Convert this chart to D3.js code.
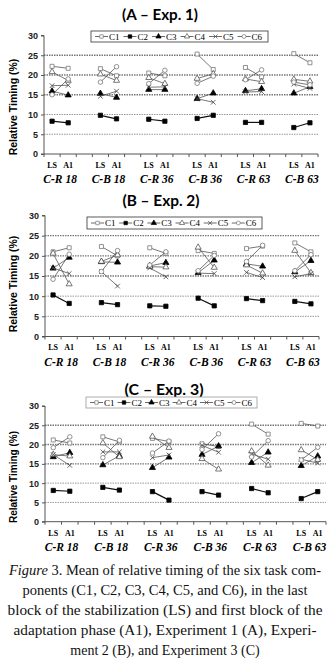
<!DOCTYPE html>
<html>
<head>
<meta charset="utf-8">
<script src="https://cdn.jsdelivr.net/npm/d3@7"></script>
<style>
  body { margin: 0; background: #fff; }
  svg { display: block; }
</style>
</head>
<body>
<div id="main"></div>
<script>
// categories
const groups = ["C-R 18", "C-B 18", "C-R 36", "C-B 36", "C-R 63", "C-B 63"]
const phases = ["LS", "A1"]
const seriesNames = ["C1", "C2", "C3", "C4", "C5", "C6"]
const yTicks = [0, 5, 10, 15, 20, 25, 30]

// values: LS, A1 for each group in order
const expA_C1 = [22.2, 21.7, 21.6, 19.8, 20.5, 19.8, 25.3, 21.4, 21.9, 19.5, 25.4, 23.1]
const expA_C2 = [8.3, 7.9, 9.8, 8.9, 8.8, 8.3, 9.0, 9.8, 8.0, 8.0, 6.7, 7.9]
const expA_C3 = [15.9, 14.9, 15.3, 14.3, 16.3, 16.3, 14.0, 15.4, 16.0, 16.5, 15.4, 17.0]
const expA_C4 = [20.8, 18.6, 20.2, 18.6, 19.3, 17.8, 19.1, 20.3, 19.0, 18.3, 18.9, 18.4]
const expA_C5 = [17.3, 17.4, 14.6, 15.9, 16.9, 17.0, 14.0, 13.1, 15.7, 15.8, 17.7, 16.6]
const expA_C6 = [15.0, 19.0, 18.2, 22.1, 17.8, 21.2, 17.9, 19.7, 18.8, 21.3, 18.2, 17.5]

const expB_C1 = [21.0, 22.0, 22.3, 20.0, 22.0, 20.6, 21.3, 20.6, 21.8, 22.4, 23.2, 21.0]
const expB_C2 = [10.3, 8.2, 8.4, 7.9, 7.6, 7.5, 9.5, 7.6, 9.4, 8.9, 8.7, 8.1]
const expB_C3 = [16.9, 19.6, 18.5, 18.4, 17.5, 18.3, 15.8, 18.9, 18.0, 17.4, 16.0, 18.8]
const expB_C4 = [20.6, 13.0, 18.6, 20.2, 17.3, 17.2, 22.1, 17.1, 17.7, 15.7, 21.3, 15.8]
const expB_C5 = [17.0, 15.6, 16.1, 12.5, 17.0, 14.8, 15.7, 15.6, 15.9, 14.6, 14.8, 15.6]
const expB_C6 = [14.2, 20.4, 16.1, 21.3, 17.7, 21.0, 16.3, 20.1, 18.6, 22.6, 16.3, 20.3]

const expC_C1 = [21.2, 20.4, 22.0, 20.7, 21.6, 20.8, 20.2, 19.5, 25.3, 22.7, 25.5, 24.8]
const expC_C2 = [8.1, 7.9, 8.9, 8.2, 7.8, 5.6, 7.8, 6.9, 8.6, 7.5, 6.0, 7.8]
const expC_C3 = [16.8, 17.9, 14.7, 17.1, 14.0, 16.7, 17.4, 19.6, 15.3, 18.0, 14.5, 17.0]
const expC_C4 = [17.4, 17.0, 20.4, 16.8, 22.1, 19.2, 16.3, 13.6, 18.3, 14.6, 18.6, 16.1]
const expC_C5 = [17.4, 14.6, 18.1, 18.1, 16.6, 17.3, 19.8, 18.0, 17.5, 16.2, 16.2, 15.2]
const expC_C6 = [19.2, 22.0, 16.6, 21.1, 17.8, 20.9, 18.7, 22.8, 16.8, 21.0, 16.0, 19.3]

const captionLines = [
    "Mean of relative timing of the six task com-",
    "ponents (C1, C2, C3, C4, C5, and C6), in the last",
    "block of the stabilization (LS) and first block of the",
    "adaptation phase (A1), Experiment 1 (A), Experi-",
    "ment 2 (B), and Experiment 3 (C)"
]

let width = 330
let height = 665

let svg = d3.select('#main')
            .append('svg')
            .attr('width', width)
            .attr('height', height)

// marker look per series
let markerStyle = {
    C1: { type: d3.symbolSquare, fill: "#fff", stroke: "#777", size: 16 },
    C2: { type: d3.symbolSquare, fill: "#000", stroke: "#000", size: 18 },
    C3: { type: d3.symbolTriangle, fill: "#000", stroke: "#000", size: 16 },
    C4: { type: d3.symbolTriangle, fill: "#fff", stroke: "#555", size: 16 },
    C5: { type: d3.symbolX || d3.symbolCross, fill: "none", stroke: "#444", size: 16 },
    C6: { type: d3.symbolCircle, fill: "#fff", stroke: "#777", size: 16 }
}

// 17 bands: LS, A1, gap ... last group without gap
let bands = []
groups.forEach((g, i) => {
    bands.push(g + "|LS", g + "|A1")
    if (i < groups.length - 1) bands.push(g + "|gap")
})

let panels = [
    { title: "(A \u2013 Exp. 1)", titleX: 160, titleY: 15, titleW: 76, series: [expA_C1, expA_C2, expA_C3, expA_C4, expA_C5, expA_C6],
      x0: 44, x1: 318, yBottom: 154, yTop: 35.5, labelY: 107, labelSize: 10.5, legend: [91, 31, 177, 11], legendStroke: "#333" },
    { title: "(B \u2013 Exp. 2)", titleX: 161, titleY: 201, titleW: 77, series: [expB_C1, expB_C2, expB_C3, expB_C4, expB_C5, expB_C6],
      x0: 45, x1: 319, yBottom: 336.5, yTop: 215.5, labelY: 284, labelSize: 10.5, legend: [87, 217, 175, 12], legendStroke: "#333" },
    { title: "(C \u2013 Exp. 3)", titleX: 164, titleY: 389.5, titleW: 79, series: [expC_C1, expC_C2, expC_C3, expC_C4, expC_C5, expC_C6],
      x0: 45, x1: 326, yBottom: 521.7, yTop: 406, labelY: 477, labelSize: 10, legend: [86, 397, 171, 11], legendStroke: "#999" }
]

panels.forEach((p) => {
    let xScale = d3.scaleBand().domain(bands).range([p.x0, p.x1])
    let yScale = d3.scaleLinear().domain([0, 30]).range([p.yBottom, p.yTop])

    let g = svg.append('g')

    // title
    g.append('text')
        .attr('x', p.titleX)
        .attr('y', p.titleY)
        .attr('dy', '.35em')
        .attr('textLength', p.titleW)
        .attr('lengthAdjust', 'spacingAndGlyphs')
        .style('text-anchor', 'middle')
        .style('font-family', 'Lato, "Open Sans", sans-serif')
        .style('font-weight', 'bold')
        .style('font-size', '15px')
        .text(p.title)

    // gridlines
    g.selectAll('.grid')
        .data(yTicks.filter((d) => d > 0 && d < 30))
        .enter()
        .append('line')
        .attr('x1', p.x0)
        .attr('x2', p.x1)
        .attr('y1', (d) => yScale(d))
        .attr('y2', (d) => yScale(d))
        .style('stroke', (d) => d >= 15 ? '#777' : '#999')
        .style('stroke-width', (d) => d >= 15 ? 1.4 : 1)
        .style('stroke-dasharray', '1.5,1')

    // y axis
    let yAxis = d3.axisLeft(yScale).tickValues(yTicks).tickSize(3).tickFormat(d3.format('d'))
    let yg = g.append('g')
        .attr('transform', 'translate(' + p.x0 + ',0)')
        .call(yAxis)
    yg.select('.domain').attr('d', 'M-3,' + p.yTop + 'H0V' + p.yBottom + 'H-3').style('stroke', '#555')
    yg.selectAll('.tick line').style('stroke', '#555')
    yg.selectAll('.tick text')
        .attr('x', -6)
        .style('font-family', 'Arial, "Liberation Sans", sans-serif')
        .style('font-weight', 'bold')
        .style('font-size', '9px')
        .style('fill', '#222')

    // x axis: ticks at every band boundary
    let boundaries = bands.map((b) => xScale(b)).concat([p.x1])
    g.append('line')
        .attr('x1', p.x0).attr('x2', p.x1)
        .attr('y1', p.yBottom).attr('y2', p.yBottom)
        .style('stroke', '#555')
    g.selectAll('.xtick')
        .data(boundaries)
        .enter()
        .append('line')
        .attr('x1', (d) => d).attr('x2', (d) => d)
        .attr('y1', p.yBottom).attr('y2', p.yBottom + 3)
        .style('stroke', '#555')

    // LS / A1 labels
    let phaseBands = bands.filter((b) => !b.endsWith('|gap'))
    g.selectAll('.phase')
        .data(phaseBands)
        .enter()
        .append('text')
        .attr('x', (d) => xScale(d) + xScale.bandwidth() / 2)
        .attr('y', p.yBottom + 11)
        .attr('dy', '.35em')
        .style('text-anchor', 'middle')
        .style('font-family', '"Liberation Serif", "Times New Roman", serif')
        .style('font-weight', 'bold')
        .style('font-size', '8px')
        .text((d) => d.split('|')[1])

    // group labels
    g.selectAll('.grp')
        .data(groups)
        .enter()
        .append('text')
        .attr('x', (d) => (xScale(d + '|LS') + xScale(d + '|A1') + xScale.bandwidth()) / 2)
        .attr('y', p.yBottom + 25)
        .attr('dy', '.35em')
        .style('text-anchor', 'middle')
        .style('font-family', '"Liberation Serif", "Times New Roman", serif')
        .style('font-weight', 'bold')
        .style('font-style', 'italic')
        .style('font-size', '11.5px')
        .text((d) => d)

    // y label
    g.append('text')
        .attr('transform', 'translate(13,' + p.labelY + ') rotate(-90)')
        .attr('dy', '.35em')
        .style('text-anchor', 'middle')
        .style('font-family', 'Arial, "Liberation Sans", sans-serif')
        .style('font-weight', 'bold')
        .style('font-size', p.labelSize + 'px')
        .text('Relative Timing (%)')

    // series: one segment per group
    p.series.forEach((vals, si) => {
        let name = seriesNames[si]
        let st = markerStyle[name]
        let pts = []
        groups.forEach((grp, gi) => {
            phases.forEach((ph, pi) => {
                pts.push({ g: gi, x: xScale(grp + '|' + ph) + xScale.bandwidth() / 2, v: vals[gi * 2 + pi] })
            })
        })
        let line = d3.line().x((d) => d.x).y((d) => yScale(d.v))
        groups.forEach((grp, gi) => {
            g.append('path')
                .datum(pts.filter((d) => d.g === gi))
                .attr('d', line)
                .style('fill', 'none')
                .style('stroke', name === 'C2' ? '#111' : '#555')
                .style('stroke-width', name === 'C2' ? 1.2 : 0.8)
        })
        g.selectAll('.m' + name)
            .data(pts)
            .enter()
            .append('path')
            .attr('d', d3.symbol().type(st.type).size(st.size))
            .attr('transform', (d) => 'translate(' + d.x + ',' + yScale(d.v) + ')')
            .style('fill', st.fill)
            .style('stroke', st.stroke)
            .style('stroke-width', 0.8)
    })

    // legend
    let [lx, ly, lw, lh] = p.legend
    let legend = g.append('g').attr('class', 'legend')
    legend.append('rect')
        .attr('x', lx).attr('y', ly)
        .attr('width', lw).attr('height', lh)
        .style('fill', '#fff')
        .style('stroke', p.legendStroke)
        .style('stroke-width', 0.8)
    let step = (lw - 6) / seriesNames.length
    let item = legend.selectAll('.item')
        .data(seriesNames)
        .enter()
        .append('g')
        .attr('transform', (d, i) => 'translate(' + (lx + 4 + i * step) + ',' + (ly + lh / 2) + ')')
    item.append('line')
        .attr('x1', 0).attr('x2', 13)
        .style('stroke', '#444')
        .style('stroke-width', 0.8)
    item.append('path')
        .attr('d', (d) => d3.symbol().type(markerStyle[d].type).size(12)())
        .attr('transform', 'translate(6.5,0)')
        .style('fill', (d) => markerStyle[d].fill)
        .style('stroke', (d) => markerStyle[d].stroke)
        .style('stroke-width', 0.7)
    item.append('text')
        .attr('x', 14)
        .attr('dy', '.35em')
        .style('font-family', '"Liberation Serif", "Times New Roman", serif')
        .style('font-size', '9px')
        .text((d) => d)
})

// caption
let caption = svg.append('g')
let capY = [570, 590.5, 610.5, 630, 650.5]
let capW = [312, 285, 315, 303, null]
captionLines.forEach((t, i) => {
    let txt = caption.append('text')
        .attr('x', 165)
        .attr('y', capY[i])
        .attr('dy', '.35em')
        .style('text-anchor', 'middle')
        .style('font-family', '"Liberation Serif", "Times New Roman", serif')
        .style('font-size', '14px')
        .style('fill', '#111')
    if (i === 0) {
        txt.append('tspan').style('font-style', 'italic').text('Figure')
        txt.append('tspan').text(' 3. ' + t)
    } else {
        txt.text(t)
    }
    if (capW[i]) txt.attr('textLength', capW[i]).attr('lengthAdjust', 'spacingAndGlyphs')
})
</script>
</body>
</html>
